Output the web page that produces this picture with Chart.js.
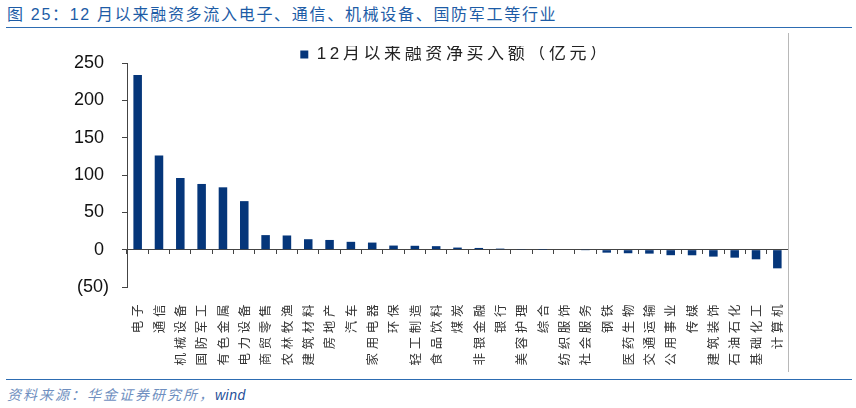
<!DOCTYPE html>
<html>
<head>
<meta charset="utf-8">
<script src="https://cdn.jsdelivr.net/npm/chart.js@4.4.1/dist/chart.umd.min.js"></script>
<style>
  body { margin: 0; width: 856px; height: 408px; background: #fff; position: relative; overflow: hidden;
         font-family: "Liberation Sans", "Noto Sans CJK SC", sans-serif; }
  #title { position: absolute; left: 7px; top: 0; height: 28px; line-height: 30px; font-size: 16px;
           letter-spacing: 1.7px; color: #1d5ca6; white-space: nowrap; }
  .rule { position: absolute; left: 6px; width: 846px; height: 1.5px; background: #2d6cb2; }
  #wrap { position: absolute; left: 68px; top: 33px; width: 775px; height: 339px; }
  #edge { position: absolute; left: 788px; top: 33px; width: 1px; height: 339px; background: #b8b8b8; }
  #source { position: absolute; left: 7px; top: 384px; height: 22px; line-height: 22px; font-size: 14px;
            font-style: italic; letter-spacing: 2px; color: #6f8fc0; white-space: nowrap; }
  #source b { font-weight: normal; color: #1f4f99; letter-spacing: 0.5px; }
</style>
</head>
<body>
<div id="title">图 25：12 月以来融资多流入电子、通信、机械设备、国防军工等行业</div>
<div class="rule" style="top:26.5px"></div>
<div id="wrap"><canvas id="chart" width="775" height="339"></canvas></div>
<div id="edge"></div>
<div class="rule" style="top:378.5px"></div>
<div id="source">资料来源：华金证券研究所，<b>wind</b></div>

<script>
// industries, in the order of the chart
const categories = ['电子', '通信', '机械设备', '国防军工', '有色金属', '电力设备', '商贸零售', '农林牧渔',
  '建筑材料', '房地产', '汽车', '家用电器', '环保', '轻工制造', '食品饮料', '煤炭', '非银金融', '银行',
  '美容护理', '综合', '纺织服饰', '社会服务', '钢铁', '医药生物', '交通运输', '公用事业', '传媒',
  '建筑装饰', '石油石化', '基础化工', '计算机'];
// net financing buy since December, 亿元
const netBuy = [234, 126, 96, 88, 83.5, 65, 19.5, 19, 14, 13, 10.5, 9.5, 5.5, 5.2, 4.7, 2.8, 2.3, 1.4,
  0.4, 0.1, 0, -0.2, -4, -4.8, -5.3, -7.4, -7.5, -9.3, -10.7, -12.9, -25];
const seriesName = '12月以来融资净买入额（亿元）';
const yTicks = [250, 200, 150, 100, 50, 0, -50];

const legendFont = { size: 17, family: '"Liberation Sans", "Noto Sans CJK SC", sans-serif' };
const tickFont = { size: 12.5, family: '"Noto Sans CJK SC", sans-serif' };

// the original sets its Chinese text with wide letter spacing (legend and category labels)
function spaced(ctx, font, px) {
  ctx.font = Chart.helpers.toFont(font).string;
  ctx.letterSpacing = px;
}

// numbers on the value axis are set without extra spacing
class PlainLinearScale extends Chart.LinearScale {
  drawLabels(area) {
    const c = this.ctx;
    c.save(); c.letterSpacing = '0px';
    super.drawLabels(area);
    c.restore();
  }
}
PlainLinearScale.id = 'plainLinear';
Chart.register(PlainLinearScale);

const letterSpacing = {
  id: 'letterSpacing',
  beforeUpdate(chart) { spaced(chart.ctx, legendFont, '3.6px'); },
  beforeDraw(chart) { spaced(chart.ctx, legendFont, '3.6px'); }
};

const axisColor = '#444';

new Chart(document.getElementById('chart'), {
  type: 'bar',
  data: {
    labels: categories,
    datasets: [{
      label: seriesName,
      data: netBuy,
      backgroundColor: '#05367a',
      categoryPercentage: 1,
      barPercentage: 0.4,
      xAxisID: 'x',
      yAxisID: 'y'
    }]
  },
  options: {
    responsive: false,
    animation: false,
    layout: { padding: { top: 13, left: 0, right: 0, bottom: 0 } },
    scales: {
      y: {
        type: 'plainLinear',
        position: 'left',
        min: -50, max: 250,
        afterBuildTicks: s => { s.ticks = yTicks.map(v => ({ value: v })); },
        afterFit: s => { s.width = 59; },
        grid: { drawOnChartArea: false, drawTicks: true, tickLength: 5, tickColor: axisColor, lineWidth: 1 },
        border: { display: true, color: axisColor, width: 1 },
        ticks: {
          padding: 13,
          color: '#111',
          font: { size: 18, family: '"Liberation Sans", Arial, sans-serif' },
          callback: v => v < 0 ? '(' + Math.abs(v) + ')' : v + ' '
        }
      },
      y2: {
        type: 'linear',
        position: 'right',
        afterFit: s => { s.width = 55; },
        grid: { display: false, drawTicks: false },
        border: { display: false },
        ticks: { display: false }
      },
      x: {
        type: 'category',
        position: { y: 0 },
        offset: true,
        grid: { display: true, offset: true, drawOnChartArea: false, drawTicks: true, tickLength: 4, tickColor: axisColor, lineWidth: 1 },
        border: { display: true, color: axisColor, width: 1 },
        ticks: { display: false }
      },
      x2: {
        type: 'category',
        position: 'bottom',
        offset: true,
        afterFit: s => { s.height = 85; },
        grid: { display: false, drawTicks: false },
        border: { display: false },
        ticks: {
          autoSkip: false,
          minRotation: 90, maxRotation: 90,
          padding: 14,
          color: '#333',
          font: tickFont
        }
      }
    },
    plugins: {
      legend: {
        position: 'top',
        maxHeight: 17,
        labels: {
          boxWidth: 8, boxHeight: 8, padding: 0,
          color: '#222',
          font: legendFont
        }
      },
      tooltip: { enabled: false }
    }
  },
  plugins: [letterSpacing]
});
</script>
</body>
</html>
